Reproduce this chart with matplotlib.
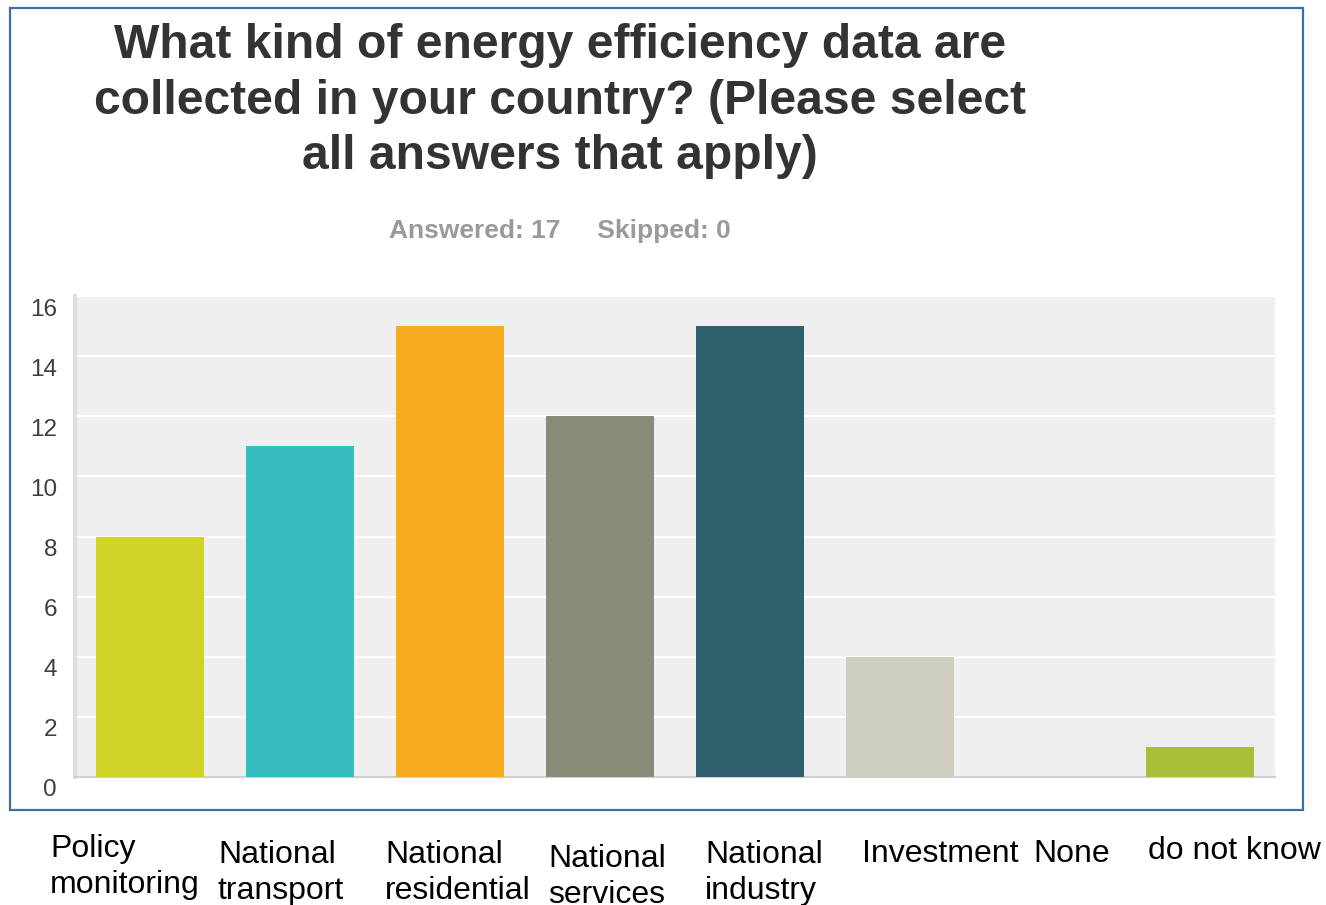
import matplotlib
matplotlib.use("Agg")
import matplotlib.pyplot as plt
from matplotlib.patches import Rectangle
from matplotlib.transforms import ScaledTranslation

categories = ["Policy\nmonitoring", "National\ntransport", "National\nresidential",
              "National\nservices", "National\nindustry", "Investment", "None", "do not know"]
values = [8, 11, 15, 12, 15, 4, 0, 1]
bar_colors = ["#cfd427", "#35bdbf", "#f6ac1e", "#8a8a79", "#2e5f6d", "#cfcdbe", "#cccccc", "#a9bd38"]
yticks = [0, 2, 4, 6, 8, 10, 12, 14, 16]
title = "What kind of energy efficiency data are\ncollected in your country? (Please select\nall answers that apply)"
subtitle = "Answered: 17     Skipped: 0"

# layout: label left x and first-line centre y, in pixels
label_pos = [(50, 845), (218, 851), (385, 851), (548, 855), (705, 851), (862, 851), (1033, 851), (1148, 848)]

W, H = 1326, 905
DPI = 100
plt.rcParams['font.family'] = ['Liberation Sans', 'DejaVu Sans']
fig = plt.figure(figsize=(W / DPI, H / DPI), dpi=DPI)

def fx(px):
    return px / W

def fy(py):
    return 1 - py / H

# outer border
fig.patches.append(Rectangle((fx(10), fy(810)), fx(1303) - fx(10), fy(8) - fy(810),
                             transform=fig.transFigure, fill=False, edgecolor="#3d6ea6", linewidth=1.6))

ax = fig.add_axes([fx(75), fy(777), fx(1275) - fx(75), fy(296) - fy(777)])
ax.set_facecolor("#efefef")
x = list(range(len(values)))
ax.bar(x, values, width=0.72, color=bar_colors, zorder=3)
ax.set_xlim(-0.5, len(values) - 0.5)
ax.set_ylim(0, 16)
ax.set_yticks(yticks)
ax.set_yticklabels([str(t) for t in yticks], fontsize=17.5, color="#3f3f3f")
ax.tick_params(axis='y', length=0, pad=13)
ax.set_xticks([])
ax.grid(axis='y', color="white", linewidth=1.6, zorder=1)
ax.set_axisbelow(True)
for s in ["top", "right"]:
    ax.spines[s].set_visible(False)
ax.spines["left"].set_color("#dedede")
ax.spines["left"].set_linewidth(3.0)
ax.spines["bottom"].set_color("#cfcfcf")
ax.spines["bottom"].set_linewidth(1.5)
for lab in ax.get_yticklabels():
    lab.set_transform(lab.get_transform() + ScaledTranslation(0, -11 / DPI, fig.dpi_scale_trans))

fig.text(fx(560), fy(101), title, ha="center", va="center", fontsize=34.6, fontweight="bold",
         color="#333333", linespacing=1.29)
fig.text(fx(560), fy(231), subtitle, ha="center", va="center", fontsize=19, fontweight="bold",
         color="#9a9a9a")

LINE = 37
for lab, (px, py) in zip(categories, label_pos):
    n = lab.count("\n")
    fig.text(fx(px), fy(py + 11 + n * LINE), lab, ha="left", va="baseline", fontsize=23,
             color="black", linespacing=1.27)

fig.savefig("out.png", dpi=DPI)
